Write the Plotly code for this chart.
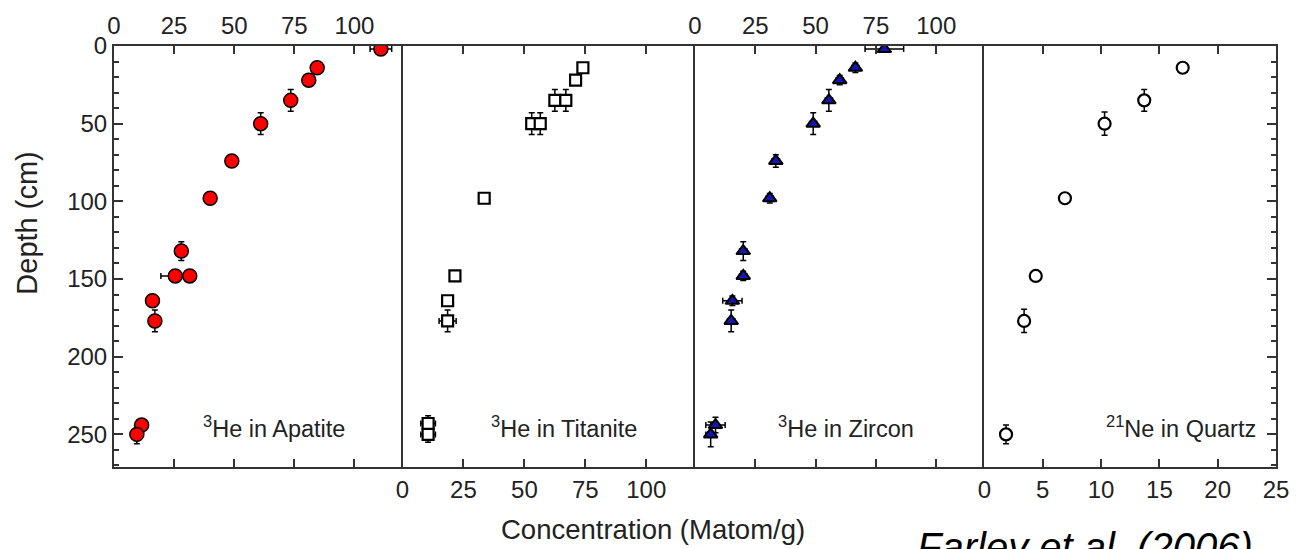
import plotly.graph_objects as go
from plotly.subplots import make_subplots

# ---- data (depth in cm, concentration in Matom/g) ----
apatite_depth = [2, 14, 22, 35, 50, 74, 98, 132, 148, 148, 164, 177, 244, 250]
apatite_conc = [111, 84.5, 81, 73.5, 61, 49, 40, 28, 25.5, 31.5, 16, 17, 11.5, 9.5]
apatite_depth_err = [2, 3, 3, 7, 7, 4, 3, 6, 3, 3, 3, 7, 4, 6]
apatite_conc_err = [4.5, 1.5, 1.5, 2, 1.5, 1.5, 1.5, 1.5, 6, 1.5, 1.5, 1.5, 1.5, 1.5]

titanite_depth = [14, 22, 35, 35, 50, 50, 98, 148, 164, 177, 243, 250]
titanite_conc = [74, 71, 62.5, 67, 53, 56.5, 33.5, 21.5, 18.5, 18.5, 10.5, 10.5]
titanite_depth_err = [3, 3, 7, 7, 7, 7, 3, 3, 3, 7, 5, 5]
titanite_conc_err = [1.5, 1.5, 1.5, 1.5, 1.5, 1.5, 1.5, 1.5, 1.5, 3.5, 3, 3]

zircon_depth = [2, 14, 22, 35, 50, 74, 98, 132, 148, 164, 177, 244, 250]
zircon_conc = [78.5, 66.5, 60, 55.5, 49, 33.5, 31, 20, 20, 15.5, 15, 8.5, 6.5]
zircon_depth_err = [2, 3, 3, 7, 7, 4, 3, 6, 3, 3, 7, 5, 8]
zircon_conc_err = [8, 1.5, 1.5, 1.5, 1.5, 1.5, 1.5, 1.5, 1.5, 4, 1.5, 4, 2]

quartz_depth = [14, 35, 50, 98, 148, 177, 250]
quartz_conc = [17, 13.7, 10.3, 6.9, 4.4, 3.4, 1.85]
quartz_depth_err = [3, 7, 7.5, 3, 3, 7.5, 6]
quartz_conc_err = [0.3, 0.3, 0.3, 0.3, 0.3, 0.3, 0.3]

he_ticks = [0, 25, 50, 75, 100]
ne_ticks = [0, 5, 10, 15, 20, 25]
depth_ticks = [0, 50, 100, 150, 200, 250]

panel_labels = ["<sup>3</sup>He in Apatite", "<sup>3</sup>He in Titanite",
                "<sup>3</sup>He in Zircon", "<sup>21</sup>Ne in Quartz"]

FONT = "Liberation Sans, Arial, Helvetica, sans-serif"
LINE = "#333333"

fig = make_subplots(rows=1, cols=4, horizontal_spacing=0)


def add(col, x, y, xe, ye, symbol, fill, size, lw):
    fig.add_trace(go.Scatter(
        x=x, y=y, mode="markers",
        error_x=dict(type="data", array=xe, color="black", thickness=1.5, width=3),
        error_y=dict(type="data", array=ye, color="black", thickness=1.5, width=3),
        marker=dict(symbol=symbol, color=fill, size=size,
                    line=dict(color="black", width=lw)),
        showlegend=False), row=1, col=col)


add(1, apatite_conc, apatite_depth, apatite_conc_err, apatite_depth_err, "circle", "#ff0000", 14, 1.5)
add(2, titanite_conc, titanite_depth, titanite_conc_err, titanite_depth_err, "square", "white", 11, 2.2)
add(3, zircon_conc, zircon_depth, zircon_conc_err, zircon_depth_err, "triangle-up", "#1515b0", 12, 2)
add(4, quartz_conc, quartz_depth, quartz_conc_err, quartz_depth_err, "circle", "white", 12, 2.2)

domains = [[0, 0.2483], [0.2483, 0.5], [0.5, 0.7491], [0.7491, 1.0]]
sides = ["top", "bottom", "top", "bottom"]
for i in range(4):
    key = "xaxis" if i == 0 else f"xaxis{i+1}"
    ticks = ne_ticks if i == 3 else he_ticks
    rng = [0, 25] if i == 3 else [0, 120]
    fig.layout[key].update(
        domain=domains[i], range=rng, side=sides[i], tickmode="array",
        tickvals=ticks, ticktext=[str(t) for t in ticks],
        ticks="inside", ticklen=8, tickwidth=2, tickcolor=LINE,
        showline=True, linewidth=2, linecolor=LINE, mirror="ticks",
        showgrid=False, zeroline=False,
        tickfont=dict(family=FONT, size=24, color="#222"))

fig.update_layout(yaxis=dict(
    range=[271, 0], tickmode="array", tickvals=depth_ticks,
    ticktext=[str(t) for t in depth_ticks],
    ticks="inside", ticklen=9, tickwidth=2, tickcolor=LINE,
    minor=dict(tickmode="linear", tick0=0, dtick=10, ticks="inside",
               ticklen=5, tickwidth=2, tickcolor=LINE),
    showline=True, linewidth=2, linecolor=LINE,
    showgrid=False, zeroline=False,
    tickfont=dict(family=FONT, size=24, color="#222")))
for k in ["yaxis2", "yaxis3"]:
    fig.layout[k].update(range=[271, 0], showline=True, linewidth=2, linecolor=LINE,
                         ticks="", showticklabels=False, showgrid=False, zeroline=False)
fig.layout["yaxis4"].update(
    range=[271, 0], side="right", tickmode="array", tickvals=depth_ticks,
    ticks="inside", ticklen=9, tickwidth=2, tickcolor=LINE,
    minor=dict(tickmode="linear", tick0=0, dtick=10, ticks="inside",
               ticklen=5, tickwidth=2, tickcolor=LINE),
    showticklabels=False, showline=True, linewidth=2, linecolor=LINE, mirror=True,
    showgrid=False, zeroline=False)

label_x = [0.1374, 0.387, 0.630, 0.918]
annotations = []
for lx, txt in zip(label_x, panel_labels):
    annotations.append(dict(x=lx, y=0.095, xref="paper", yref="paper", text=txt,
                            showarrow=False, xanchor="center", yanchor="middle",
                            font=dict(family=FONT, size=23.5, color="#222")))
annotations.append(dict(x=0.464, y=-0.149, xref="paper", yref="paper",
                        text="Concentration (Matom/g)", showarrow=False,
                        xanchor="center", yanchor="middle",
                        font=dict(family=FONT, size=27.5, color="#222")))
annotations.append(dict(x=-0.0745, y=0.579, xref="paper", yref="paper",
                        text="Depth (cm)", showarrow=False, textangle=-90,
                        xanchor="center", yanchor="middle",
                        font=dict(family=FONT, size=29, color="#222")))
annotations.append(dict(x=0.8356, y=-0.19, xref="paper", yref="paper",
                        text="<i>Farley et al. (2006)</i>", showarrow=False,
                        xanchor="center", yanchor="middle",
                        font=dict(family=FONT, size=40, color="black")))

fig.update_layout(width=1301, height=549, margin=dict(l=114, r=19, t=44, b=82),
                  paper_bgcolor="white", plot_bgcolor="white", showlegend=False,
                  annotations=annotations, font=dict(family=FONT))

fig.write_html("out.html")
